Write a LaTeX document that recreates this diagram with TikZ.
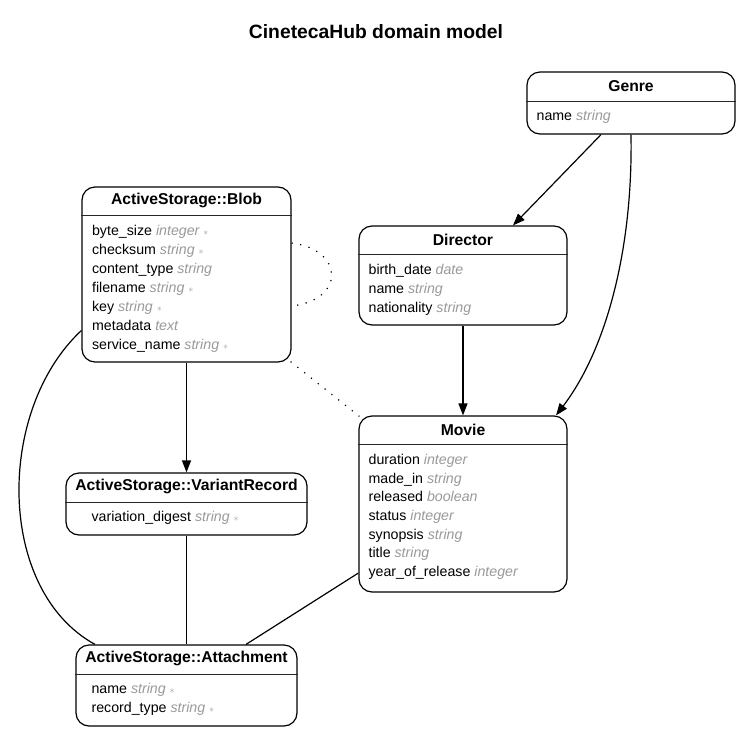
\documentclass[tikz,border=0pt]{standalone}
\usepackage{fontspec}
\setmainfont{Liberation Sans}
\usetikzlibrary{arrows.meta,calc}
\definecolor{typegray}{HTML}{999999}
\newcommand\ty[1]{\textcolor{typegray}{\itshape #1}}
\newcommand\reqmark{\ \textcolor{typegray}{\raisebox{0.3pt}{\fontsize{10}{10}\selectfont$\ast$}}}
\tikzset{
  entbox/.style={draw, line width=1.2pt, rounded corners=13pt, inner sep=0pt},
  enttitle/.style={font=\fontsize{15.7}{18}\selectfont\bfseries, inner sep=0pt},
  attrow/.style={font=\fontsize{14.2}{16}\selectfont, inner sep=0pt, anchor=base west},
  sepline/.style={line width=1pt, draw=black!85},
  rel/.style={line width=1.2pt},
  arr/.style={rel, -{Triangle[length=12pt,width=9pt]}},
  dotrel/.style={line width=1.2pt, dash pattern=on 1.2pt off 7.5pt}
}
\newcommand\ent[7]{% name cx cy w h title sep
  \node[entbox, minimum width=#4pt, minimum height=#5pt] (#1) at (#2,#3) {};
  \draw[sepline] ([yshift=-#7pt]#1.north west) -- ([yshift=-#7pt]#1.north east);
  \node[enttitle] (#1-t) at ([yshift=-14.5pt]#1.north) {#6};
}
\begin{document}
\begin{tikzpicture}[x=1pt,y=-1pt]
\useasboundingbox (0,0) rectangle (752,750);
\node[font=\fontsize{19.3}{22}\selectfont\bfseries, inner sep=0pt] (title) at (376,32) {CinetecaHub domain model};

% Genre
\ent{genre}{631}{103}{208}{62}{Genre}{30}
\node[attrow] (genre-r1) at ([xshift=10pt,yshift=-49pt]genre.north west) {name \ty{string}};

% Director
\ent{director}{463}{275.5}{208}{99}{Director}{29}
\foreach \i/\txt in {1/{birth\_date \ty{date}},2/{name \ty{string}},3/{nationality \ty{string}}}
  \node[attrow] (director-r\i) at ([xshift=10pt,yshift={-49pt-(\i-1)*19pt}]director.north west) {\txt};

% Blob
\ent{blob}{186.5}{274.5}{209}{175}{ActiveStorage::Blob}{29}
\foreach \i/\txt in {1/{byte\_size \ty{integer}\reqmark},2/{checksum \ty{string}\reqmark},3/{content\_type \ty{string}},4/{filename \ty{string}\reqmark},5/{key \ty{string}\reqmark},6/{metadata \ty{text}},7/{service\_name \ty{string}\reqmark}}
  \node[attrow] (blob-r\i) at ([xshift=10.5pt,yshift={-49pt-(\i-1)*19pt}]blob.north west) {\txt};

% Movie
\ent{movie}{463}{504}{208}{176}{Movie}{29}
\foreach \i/\txt in {1/{duration \ty{integer}},2/{made\_in \ty{string}},3/{released \ty{boolean}},4/{status \ty{integer}},5/{synopsis \ty{string}},6/{title \ty{string}},7/{year\_of\_release \ty{integer}}}
  \node[attrow] (movie-r\i) at ([xshift=10pt,yshift={-49pt-(\i-1)*18.7pt}]movie.north west) {\txt};

% VariantRecord
\ent{vr}{186.5}{504}{241}{62}{ActiveStorage::VariantRecord}{30}
\node[attrow] (vr-r1) at ([xshift=26pt,yshift=-49pt]vr.north west) {variation\_digest \ty{string}\reqmark};

% Attachment
\ent{att}{186.5}{685.5}{221}{81}{ActiveStorage::Attachment}{30}
\node[attrow] (att-r1) at ([xshift=16pt,yshift=-49pt]att.north west) {name \ty{string}\reqmark};
\node[attrow] (att-r2) at ([xshift=16pt,yshift=-68pt]att.north west) {record\_type \ty{string}\reqmark};

% relations
\draw[arr] ([xshift=-30pt]genre.south) -- ([xshift=50pt]director.north);
\draw[arr] (genre.south) .. controls (633,250) and (606,350) .. ([xshift=93pt]movie.north);
\draw[arr] (director.south) -- (movie.north);
\draw[arr] (blob.south) -- (vr.north);
\draw[dotrel] ([yshift=31.5pt]blob.east) .. controls (345,250) and (345,300) .. ([yshift=-31.5pt]blob.east);
\draw[dotrel] ([shift={(-1pt,1pt)}]blob.south east) -- ([shift={(1pt,-1pt)}]movie.north west);
\draw[rel] ([yshift=-56pt]blob.west) .. controls (-4,410) and (-4,590) .. ([xshift=-91.5pt]att.north);
\draw[rel] (vr.south) -- (att.north);
\draw[rel] ([yshift=-69pt]movie.west) -- ([xshift=59.5pt]att.north);
\end{tikzpicture}
\end{document}
